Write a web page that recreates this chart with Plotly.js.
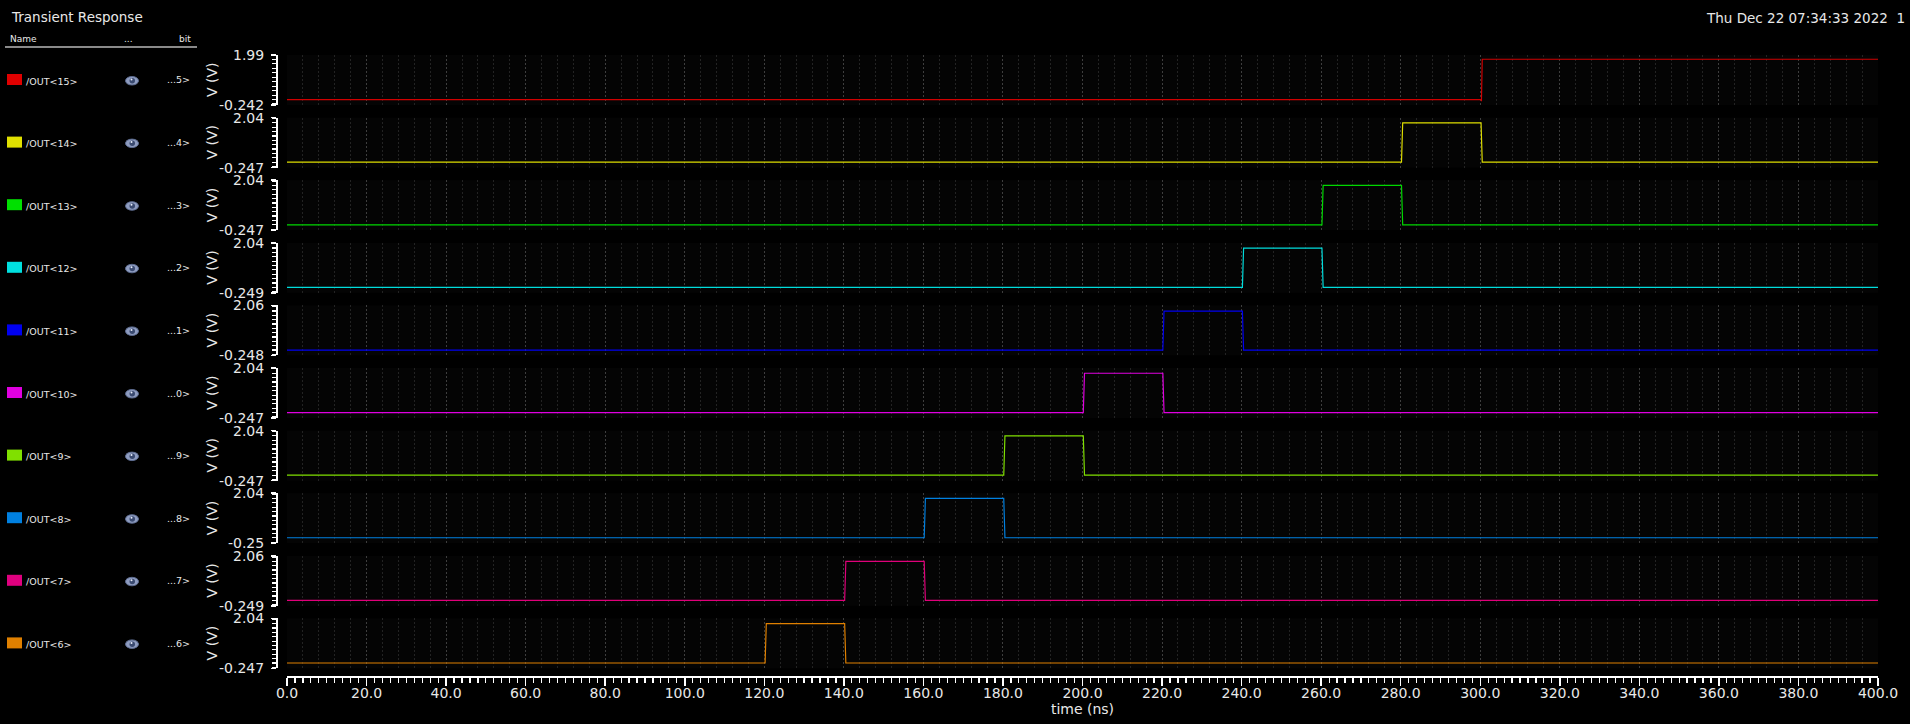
<!DOCTYPE html>
<html>
<head>
<meta charset="utf-8">
<script src="https://cdn.plot.ly/plotly-3.0.1.min.js"></script>
<style>
html,body{margin:0;padding:0;background:#000;}
#chart{width:1910px;height:724px;}
</style>
</head>
<body>
<div id="chart"></div>
<script>
// ---------------- data ----------------
const signalNames = ['/OUT<15>','/OUT<14>','/OUT<13>','/OUT<12>','/OUT<11>','/OUT<10>','/OUT<9>','/OUT<8>','/OUT<7>','/OUT<6>'];
const bitLabels   = ['...5>','...4>','...3>','...2>','...1>','...0>','...9>','...8>','...7>','...6>'];
const lineColors  = ['#d00000','#dede00','#00d800','#00dcdc','#0000f0','#e000e0','#80e000','#0080e0','#e0007a','#e08000'];
const swatchColors= ['#e00000','#e0e000','#00e000','#00e0e0','#0000f0','#e000e0','#80e000','#0080e0','#e0007f','#e08000'];
const yMin = [-0.242,-0.247,-0.247,-0.249,-0.248,-0.247,-0.247,-0.25,-0.249,-0.247];
const yMax = [1.99,2.04,2.04,2.04,2.06,2.04,2.04,2.04,2.06,2.04];
const yMinText = ['-0.242','-0.247','-0.247','-0.249','-0.248','-0.247','-0.247','-0.25','-0.249','-0.247'];
const yMaxText = ['1.99','2.04','2.04','2.04','2.06','2.04','2.04','2.04','2.06','2.04'];

// time (ns) and voltage (V) for each waveform
const t15 = [0, 300.2, 300.3, 300.5, 400];
const v15 = [0, 0, -0.07, 1.8, 1.8];
const t14 = [0, 280.2, 280.5, 300.2, 300.5, 400];
const v14 = [0, 0, 1.8, 1.8, 0, 0];
const t13 = [0, 260.2, 260.5, 280.2, 280.5, 400];
const v13 = [0, 0, 1.8, 1.8, 0, 0];
const t12 = [0, 240.2, 240.5, 260.2, 260.5, 400];
const v12 = [0, 0, 1.8, 1.8, 0, 0];
const t11 = [0, 220.2, 220.5, 240.2, 240.5, 400];
const v11 = [0, 0, 1.8, 1.8, 0, 0];
const t10 = [0, 200.2, 200.5, 220.2, 220.5, 400];
const v10 = [0, 0, 1.8, 1.8, 0, 0];
const t9  = [0, 180.2, 180.5, 200.2, 200.5, 400];
const v9  = [0, 0, 1.8, 1.8, 0, 0];
const t8  = [0, 160.2, 160.5, 180.2, 180.5, 400];
const v8  = [0, 0, 1.8, 1.8, 0, 0];
const t7  = [0, 140.2, 140.5, 160.2, 160.5, 400];
const v7  = [0, 0, 1.8, 1.8, 0, 0];
const t6  = [0, 120.2, 120.5, 140.2, 140.5, 400];
const v6  = [0, 0, 1.8, 1.8, 0, 0];
const timeSeries = [t15,t14,t13,t12,t11,t10,t9,t8,t7,t6];
const voltSeries = [v15,v14,v13,v12,v11,v10,v9,v8,v7,v6];
const xTickLabelsFormat = '.1f';

// ---------------- layout geometry (pixels) ----------------
const W = 1910, H = 724;
const plotLeft = 287, plotRight = 1878;
const yAxisX = 276;
const panelTop0 = 55, pitch = 62.6, panelH = 50;
const xAxisY = 676;
const px = v => v / W;
const py = v => 1 - v / H;
const FONT = 'DejaVu Sans, sans-serif';
const TXT = '#e8e8e8';
const GRID_MAJOR = '#3e3e3e';
const GRID_MINOR = '#232323';

const traces = [];
const layout = {
  width: W, height: H,
  margin: {l:0, r:0, t:0, b:0},
  paper_bgcolor: '#000000',
  plot_bgcolor: '#040404',
  showlegend: false,
  font: {family: FONT, color: TXT, size: 13},
  shapes: [],
  annotations: []
};

for (let i = 0; i < 10; i++) {
  const n = i + 1;
  const top = panelTop0 + i * pitch;
  const bot = top + panelH;
  traces.push({
    type: 'scatter', mode: 'lines',
    x: timeSeries[i], y: voltSeries[i],
    xaxis: 'x' + n, yaxis: 'y' + n,
    line: {color: lineColors[i], width: 1.2},
    hoverinfo: 'skip'
  });
  layout['xaxis' + n] = {
    domain: [px(plotLeft), px(plotRight)],
    anchor: 'y' + n,
    range: [0, 400],
    showticklabels: false, ticks: '', showline: false, zeroline: false,
    showgrid: true, gridcolor: GRID_MAJOR, griddash: '2px,2px', gridwidth: 1,
    tick0: 0, dtick: 20,
    minor: {dtick: 4, tick0: 0, showgrid: true, gridcolor: GRID_MINOR, griddash: '2px,2px', gridwidth: 1, ticks: ''},
    fixedrange: true
  };
  layout['yaxis' + n] = {
    domain: [py(bot), py(top)],
    anchor: 'free', position: px(yAxisX),
    range: [yMin[i], yMax[i]],
    tickmode: 'array', tickvals: [yMin[i], yMax[i]], ticktext: [yMinText[i], yMaxText[i]],
    ticks: 'outside', ticklen: 5, tickwidth: 1.5, tickcolor: '#ffffff',
    ticklabelstandoff: 4,
    showline: true, linecolor: '#ffffff', linewidth: 1.5,
    showgrid: true, gridcolor: '#444444', griddash: '2px,2px', gridwidth: 1,
    zeroline: false,
    tickfont: {family: FONT, size: 14, color: TXT},
    minor: {tickmode: 'linear', tick0: 0, dtick: 0.2, ticks: 'outside', ticklen: 4, tickwidth: 1.2, tickcolor: '#ffffff', showgrid: false},
    fixedrange: true
  };
  // y-axis title
  layout.annotations.push({
    xref: 'paper', yref: 'paper', x: px(212), y: py(top + panelH / 2),
    text: 'V (V)', textangle: -90, showarrow: false,
    font: {family: FONT, size: 14, color: TXT}, xanchor: 'center', yanchor: 'middle'
  });
  // legend row
  const rc = 80 + i * pitch;
  layout.shapes.push({type: 'rect', xref: 'paper', yref: 'paper',
    x0: px(7), x1: px(22), y0: py(rc - 6), y1: py(rc + 5),
    fillcolor: swatchColors[i], line: {width: 0}});
  layout.annotations.push({xref: 'paper', yref: 'paper', x: px(24), y: py(rc + 1),
    text: signalNames[i], showarrow: false, xanchor: 'left', yanchor: 'middle',
    font: {family: FONT, size: 9.5, color: TXT}});
  layout.annotations.push({xref: 'paper', yref: 'paper', x: px(192), y: py(rc),
    text: bitLabels[i], showarrow: false, xanchor: 'right', yanchor: 'middle',
    font: {family: FONT, size: 9.5, color: TXT}});
  // eye icon
  layout.shapes.push({type: 'circle', xref: 'paper', yref: 'paper',
    x0: px(125.5), x1: px(138.5), y0: py(rc + 5), y1: py(rc - 3.5),
    fillcolor: '#8e9cc0', line: {color: '#5d6c90', width: 1}});
  layout.shapes.push({type: 'circle', xref: 'paper', yref: 'paper',
    x0: px(129.5), x1: px(135), y0: py(rc + 3.5), y1: py(rc - 2),
    fillcolor: '#3a4a70', line: {width: 0}});
  layout.shapes.push({type: 'circle', xref: 'paper', yref: 'paper',
    x0: px(130.5), x1: px(132.5), y0: py(rc + 0.5), y1: py(rc - 1.5),
    fillcolor: '#e8eefc', line: {width: 0}});
}

// bottom time axis (overlaying last panel)
traces.push({type: 'scatter', mode: 'lines', x: [], y: [], xaxis: 'x11', yaxis: 'y10', hoverinfo: 'skip', showlegend: false});
layout.xaxis11 = {
  domain: [px(plotLeft), px(plotRight)],
  overlaying: 'x10', anchor: 'free', position: py(xAxisY),
  range: [0, 400], tick0: 0, dtick: 20, tickformat: xTickLabelsFormat,
  ticks: 'outside', ticklen: 8, tickwidth: 1.5, tickcolor: '#ffffff',
  showline: true, linecolor: '#ffffff', linewidth: 1.5,
  showgrid: false, zeroline: false,
  tickfont: {family: FONT, size: 14, color: TXT},
  ticklabelstandoff: -4,
  minor: {dtick: 2, tick0: 0, ticks: 'outside', ticklen: 5, tickwidth: 1.2, tickcolor: '#ffffff', showgrid: false},
  title: {text: 'time (ns)', font: {family: FONT, size: 14, color: TXT}, standoff: 4},
  fixedrange: true
};

// header texts
layout.annotations.push({xref: 'paper', yref: 'paper', x: px(9), y: py(17), text: 'Transient Response',
  showarrow: false, xanchor: 'left', yanchor: 'middle', font: {family: FONT, size: 13.5, color: TXT}});
layout.annotations.push({xref: 'paper', yref: 'paper', x: px(1907), y: py(18), text: 'Thu Dec 22 07:34:33 2022&nbsp;&nbsp;1',
  showarrow: false, xanchor: 'right', yanchor: 'middle', font: {family: FONT, size: 13.5, color: TXT}});
layout.annotations.push({xref: 'paper', yref: 'paper', x: px(8), y: py(39), text: 'Name',
  showarrow: false, xanchor: 'left', yanchor: 'middle', font: {family: FONT, size: 9, color: TXT}});
layout.annotations.push({xref: 'paper', yref: 'paper', x: px(128), y: py(39), text: '...',
  showarrow: false, xanchor: 'center', yanchor: 'middle', font: {family: FONT, size: 9, color: TXT}});
layout.annotations.push({xref: 'paper', yref: 'paper', x: px(193), y: py(39), text: 'bit',
  showarrow: false, xanchor: 'right', yanchor: 'middle', font: {family: FONT, size: 9, color: TXT}});
layout.shapes.push({type: 'line', xref: 'paper', yref: 'paper', x0: px(5), x1: px(197), y0: py(47), y1: py(47),
  line: {color: '#8a8a8a', width: 2}});

Plotly.newPlot('chart', traces, layout, {staticPlot: true, displayModeBar: false});
</script>
</body>
</html>
